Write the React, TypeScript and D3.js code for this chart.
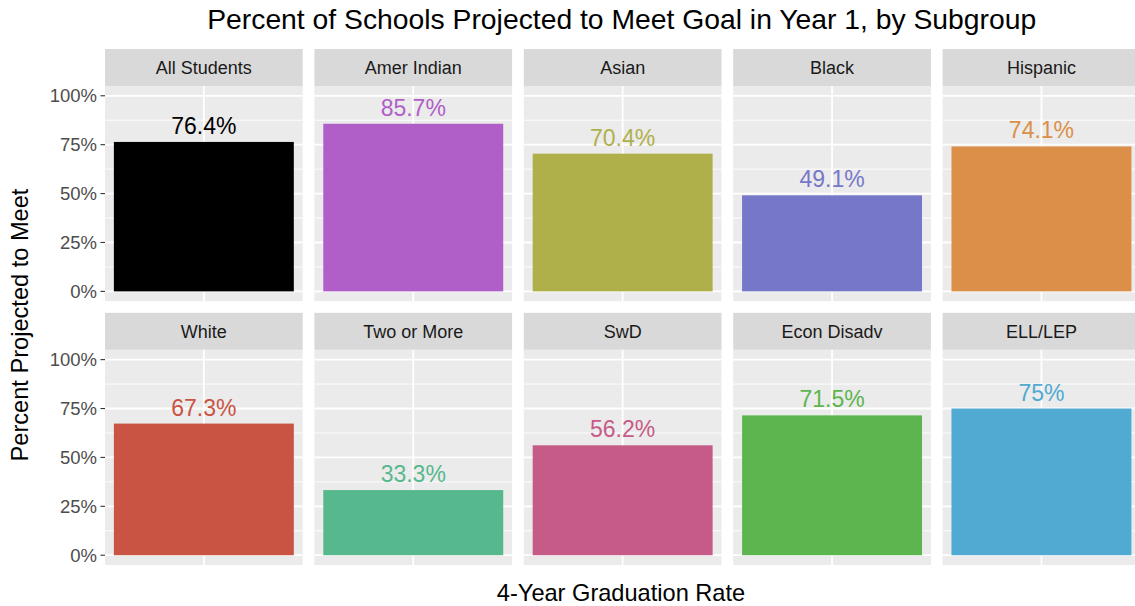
import React from "react";
import * as d3 from "d3";

// Faceted bar chart: share of schools projected to meet the 4-year grad rate goal, by subgroup.
const subgroups = [
  "All Students",
  "Amer Indian",
  "Asian",
  "Black",
  "Hispanic",
  "White",
  "Two or More",
  "SwD",
  "Econ Disadv",
  "ELL/LEP",
];
const pctMeet = [0.764, 0.857, 0.704, 0.491, 0.741, 0.673, 0.333, 0.562, 0.715, 0.75];
const barColors = [
  "#000000",
  "#b05fc8",
  "#b0b04a",
  "#7677c8",
  "#db8f48",
  "#c95443",
  "#56b98d",
  "#c75b87",
  "#5db54f",
  "#50aad1",
];
const yTicks = [0, 0.25, 0.5, 0.75, 1];
const yMinor = [0.125, 0.375, 0.625, 0.875];
const xMeasure = "4-Year Graduation Rate";

const W = 1135;
const H = 606;
const FONT = "'Liberation Sans', Arial, sans-serif";
const STRIP_H = 37;

export default function App() {
  const col = d3.scaleBand<number>().domain(d3.range(5)).range([105, 1140.3]).paddingInner(0.0559);
  const row = d3.scaleBand<number>().domain([0, 1]).range([49, 565]).paddingInner(0.0443);
  const pw = col.bandwidth();
  const ph = row.bandwidth() - STRIP_H;
  const x = d3.scaleBand<string>().domain([xMeasure]).range([0, pw]).padding(0.047);
  const y = d3.scaleLinear().domain([-0.05, 1.05]).range([ph, 0]);
  const fmt = (v: number) => `${+(v * 100).toFixed(1)}%`;

  return (
    <svg width={W} height={H} style={{ position: "absolute", left: 0, top: 0, background: "#fff" }} fontFamily={FONT}>
      <text x={621.7} y={28.5} textAnchor="middle" fontSize={28.3} fill="#000">
        Percent of Schools Projected to Meet Goal in Year 1, by Subgroup
      </text>

      {subgroups.map((name, i) => {
        const c = i % 5;
        const r = Math.floor(i / 5);
        const px = col(c)!;
        const sy = row(r)!;
        const py = sy + STRIP_H;
        const v = pctMeet[i];
        const bx = x(xMeasure)!;
        return (
          <g key={name}>
            <rect x={px} y={sy} width={pw} height={STRIP_H} fill="#d9d9d9" />
            <text x={px + pw / 2} y={sy + STRIP_H / 2} dy="0.35em" textAnchor="middle" fontSize={18} fill="#1a1a1a">
              {name}
            </text>
            <g transform={`translate(${px},${py})`}>
              <rect width={pw} height={ph} fill="#ebebeb" />
              {yMinor.map((t) => (
                <line key={t} x1={0} x2={pw} y1={y(t)} y2={y(t)} stroke="#fff" strokeWidth={0.9} />
              ))}
              {yTicks.map((t) => (
                <line key={t} x1={0} x2={pw} y1={y(t)} y2={y(t)} stroke="#fff" strokeWidth={1.8} />
              ))}
              <line x1={bx + x.bandwidth() / 2} x2={bx + x.bandwidth() / 2} y1={0} y2={ph} stroke="#fff" strokeWidth={1.8} />
              <rect x={bx} y={y(v)} width={x.bandwidth()} height={y(0) - y(v)} fill={barColors[i]} />
              <text x={bx + x.bandwidth() / 2} y={y(v) - 8} textAnchor="middle" fontSize={23} fill={barColors[i]}>
                {fmt(v)}
              </text>
            </g>
            {c === 0 &&
              yTicks.map((t) => (
                <g key={t} transform={`translate(${px},${py + y(t)})`}>
                  <line x1={-4.5} x2={0} stroke="#333" strokeWidth={1.1} />
                  <text x={-8} dy="0.35em" textAnchor="end" fontSize={18.5} fill="#4d4d4d">
                    {d3.format(".0%")(t)}
                  </text>
                </g>
              ))}
          </g>
        );
      })}

      <text transform="translate(28,325) rotate(-90)" textAnchor="middle" fontSize={23.6} fill="#000">
        Percent Projected to Meet
      </text>
      <text x={621} y={601} textAnchor="middle" fontSize={23.6} fill="#000">
        {xMeasure}
      </text>
    </svg>
  );
}
